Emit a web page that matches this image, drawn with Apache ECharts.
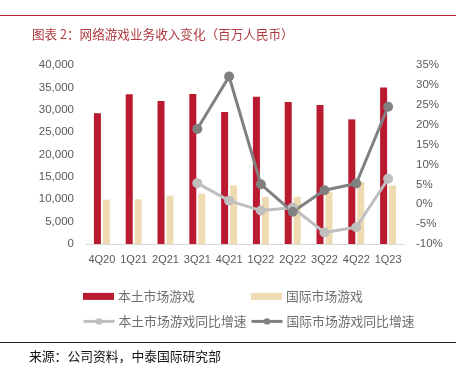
<!DOCTYPE html>
<html>
<head>
<meta charset="utf-8">
<script src="https://cdn.jsdelivr.net/npm/echarts@6/dist/echarts.min.js"></script>
<style>html,body{margin:0;padding:0;background:#fff;}#c{width:465px;height:365px;}</style>
</head>
<body>
<div id="c"></div>
<script>
const categories = ['4Q20','1Q21','2Q21','3Q21','4Q21','1Q22','2Q22','3Q22','4Q22','1Q23'];
const domesticRevenue = [29200, 33450, 31950, 33520, 29500, 32900, 31750, 31050, 27850, 35000];
const internationalRevenue = [9900, 10000, 10800, 11250, 13100, 10500, 10550, 11600, 13850, 13100];
const domesticYoY = [null, null, null, 5.3, 0.9, -1.6, -0.9, -7.1, -5.8, 6.4];
const internationalYoY = [null, null, null, 18.9, 32.1, 5.0, -1.9, 3.5, 5.2, 24.5];
const seriesNames = ['本土市场游戏','国际市场游戏','本土市场游戏同比增速','国际市场游戏同比增速'];
const titleText = '图表 2：网络游戏业务收入变化（百万人民币）';
const sourceText = '来源：公司资料，中泰国际研究部';

const cjk = '"Noto Sans CJK SC", sans-serif';
const num = '"Liberation Sans", Arial, sans-serif';
const textGray = '#595959';

const chart = echarts.init(document.getElementById('c'), null, {renderer: 'canvas'});
const legendBase = {
  orient: 'horizontal', itemWidth: 31, itemHeight: 8, itemGap: 4,
  textStyle: {color: '#6E6E6E', fontSize: 12.8, fontFamily: cjk, padding: [0,0,0,-1]}
};
chart.setOption({
  animation: false,
  backgroundColor: '#fff',
  title: {
    text: titleText, left: 27, top: 23,
    textStyle: {color: '#B03A3E', fontSize: 12.6, fontWeight: 'normal', fontFamily: cjk}
  },
  graphic: [
    {type: 'line', shape: {x1: 0, y1: 15.5, x2: 456, y2: 15.5}, style: {stroke: '#C0282E', lineWidth: 1}},
    {type: 'line', shape: {x1: 0, y1: 342.5, x2: 456, y2: 342.5}, style: {stroke: '#222', lineWidth: 1}},
    {type: 'text', left: 29, top: 350, style: {text: sourceText, fill: '#111', fontSize: 12.8, fontFamily: cjk}}
  ],
  legend: [
    Object.assign({}, legendBase, {data: [{name: seriesNames[0], icon: 'rect'}], itemHeight: 7, left: 78, top: 285}),
    Object.assign({}, legendBase, {data: [{name: seriesNames[1], icon: 'rect'}], itemHeight: 7, left: 246, top: 285}),
    Object.assign({}, legendBase, {data: [seriesNames[2]], left: 77, top: 310, lineStyle: {width: 3}}),
    Object.assign({}, legendBase, {data: [seriesNames[3]], left: 245, top: 310, lineStyle: {width: 3}})
  ],
  grid: {left: 86, right: 61, top: 65, bottom: 121},
  xAxis: {
    type: 'category', data: categories,
    axisLine: {lineStyle: {color: '#D9D9D9', width: 1}},
    axisTick: {show: false},
    axisLabel: {color: textGray, fontSize: 11, fontFamily: num, margin: 10, interval: 0}
  },
  yAxis: [
    {
      type: 'value', min: 0, max: 40000, interval: 5000,
      splitLine: {show: false}, axisLine: {show: false}, axisTick: {show: false},
      axisLabel: {color: textGray, fontSize: 11.5, fontFamily: num, margin: 12,
        formatter: v => v.toLocaleString('en-US')}
    },
    {
      type: 'value', min: -10, max: 35, interval: 5,
      splitLine: {show: false}, axisLine: {show: false}, axisTick: {show: false},
      axisLabel: {color: textGray, fontSize: 11.5, fontFamily: num, margin: 12, formatter: '{value}%'}
    }
  ],
  series: [
    {name: seriesNames[0], type: 'bar', data: domesticRevenue, barWidth: 7, barGap: '28%',
      itemStyle: {color: '#BA1A2F'}},
    {name: seriesNames[1], type: 'bar', data: internationalRevenue, barWidth: 7,
      itemStyle: {color: '#EFDBB2'}},
    {name: seriesNames[2], type: 'line', yAxisIndex: 1, data: domesticYoY,
      symbol: 'circle', symbolSize: 10, connectNulls: false,
      lineStyle: {color: '#BFBFBF', width: 3}, itemStyle: {color: '#BFBFBF'}},
    {name: seriesNames[3], type: 'line', yAxisIndex: 1, data: internationalYoY,
      symbol: 'circle', symbolSize: 10,
      lineStyle: {color: '#808080', width: 3}, itemStyle: {color: '#808080'}}
  ]
});
</script>
</body>
</html>
